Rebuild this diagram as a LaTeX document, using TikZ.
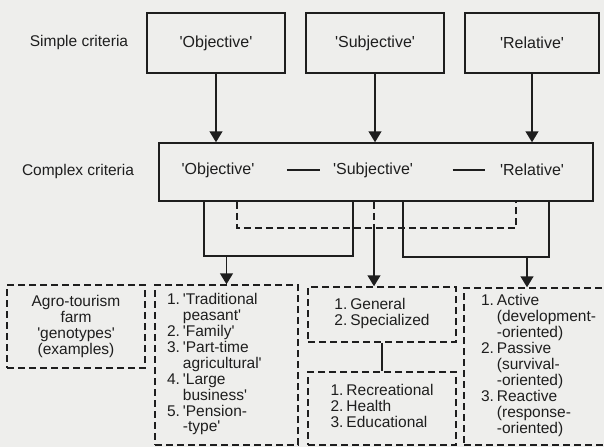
\documentclass[tikz,border=0pt]{standalone}
\usepackage{fontspec}
\newfontfamily\arialfont{Liberation Sans}
\definecolor{paper}{RGB}{238, 238, 236}
\definecolor{ink}{RGB}{30, 30, 30}
\usetikzlibrary{arrows.meta}

\begin{document}
\begin{tikzpicture}[x=1pt, y=-1pt, >={Triangle[width=13pt, length=11pt]},
    every node/.style={font=\arialfont\fontsize{15.5}{15.8}\selectfont, text=ink},
    critbox/.style={draw=ink, line width=1.5pt, minimum width=138pt, minimum height=60pt,
        inner sep=0pt, font=\arialfont\fontsize{16}{18}\selectfont},
    farmbox/.style={draw=ink, line width=1.5pt, dash pattern=on 7pt off 4pt, inner sep=0pt},
    link/.style={draw=ink, line width=1.5pt},
    dlink/.style={draw=ink, line width=1.5pt, dash pattern=on 7pt off 4pt}]

% Fond (page scannée)
\fill[paper] (0,0) rectangle (604,447);
\useasboundingbox (0,0) rectangle (604,447);

% === Critères simples ===
\node (simple) at (79,42) {Simple criteria};
\node[critbox] (sObj) at (216,43) {'Objective'};
\node[critbox] (sSubj) at (375,43) {'Subjective'};
\node[critbox, minimum width=134pt] (sRel) at (532,43) {'Relative'};

% === Critères complexes ===
\node (complex) at (78,171) {Complex criteria};
\node[draw=ink, line width=1.5pt, minimum width=434pt, minimum height=58pt, inner sep=0pt] (cBox) at (376,172) {};
\node[font=\arialfont\fontsize{16}{18}\selectfont] (cObj) at (218,170) {'Objective'};
\node[font=\arialfont\fontsize{16}{18}\selectfont] (cSubj) at (373,170) {'Subjective'};
\node[font=\arialfont\fontsize{16}{18}\selectfont] (cRel) at (532,170) {'Relative'};
\draw[link, shorten <=29pt, shorten >=10pt] (cObj.east) -- (cSubj.west);
\draw[link, shorten <=36pt, shorten >=12pt] (cSubj.east) -- (cRel.west);

% Flèches simples -> complexes
\draw[link, ->] (sObj) -- (sObj |- cBox.north);
\draw[link, ->] (sSubj) -- (sSubj |- cBox.north);
\draw[link, ->] (sRel) -- (sRel |- cBox.north);

% === Génotypes (exemples) ===
\node[farmbox, minimum width=138pt, minimum height=83pt, align=center] (tAgro) at (76,326.5)
    {Agro-tourism\\farm\\'genotypes'\\(examples)};

\node[farmbox, minimum height=160pt, text width=119pt, inner xsep=12pt, align=left] (tObj) at (226.5,365) {%
    \begin{tabular}{@{}l@{\hspace{3pt}}l@{}}
    1. & 'Traditional\\ & peasant'\\
    2. & 'Family'\\
    3. & 'Part-time\\ & agricultural'\\
    4. & 'Large\\ & business'\\
    5. & 'Pension-\\ & -type'
    \end{tabular}};

\node[farmbox, minimum width=148pt, minimum height=55pt] (tGen) at (382,314.5) {%
    \begin{tabular}{@{}l@{\hspace{3pt}}l@{}}
    1. & General\\
    2. & Specialized
    \end{tabular}};

\node[farmbox, minimum width=148pt, minimum height=73pt] (tRec) at (382,408.5) {%
    \begin{tabular}{@{}l@{\hspace{3pt}}l@{}}
    1. & Recreational\\
    2. & Health\\
    3. & Educational
    \end{tabular}};

\node[farmbox, minimum height=157pt, text width=116pt, inner xsep=17pt, align=left] (tRel) at (539,366.5) {%
    \begin{tabular}{@{}l@{\hspace{3pt}}l@{}}
    1. & Active\\ & (development-\\ & -oriented)\\
    2. & Passive\\ & (survival-\\ & -oriented)\\
    3. & Reactive\\ & (response-\\ & -oriented)
    \end{tabular}};

\draw[link] (tGen) -- (tRec);

% === Liaisons complexes -> génotypes ===
\coordinate (lpL) at (204,256);
\coordinate (lpR) at (353,256);
\coordinate (rpL) at (403,257);
\coordinate (rpR) at (549,257);
\coordinate (rpA) at (527,257);
\coordinate (dL) at (237,228);
\coordinate (dR) at (516,228);
\coordinate (mid) at (374,228);

\draw[link] (cBox.south -| lpL) -- (lpL) -- (lpR) -- (cBox.south -| lpR);
\draw[link] (cBox.south -| rpL) -- (rpL) -- (rpR) -- (cBox.south -| rpR);
\draw[dlink] (cBox.south -| dL) -- (dL) -- (dR) -- (cBox.south -| dR);
\draw[dlink] (cBox.south -| mid) -- (mid);

\draw[link, ->] (lpL -| tObj.north) -- (tObj);
\draw[link, ->] (mid) -- (mid |- tGen.north);
\draw[link, ->] (rpA) -- (rpA |- tRel.north);

\end{tikzpicture}
\end{document}
